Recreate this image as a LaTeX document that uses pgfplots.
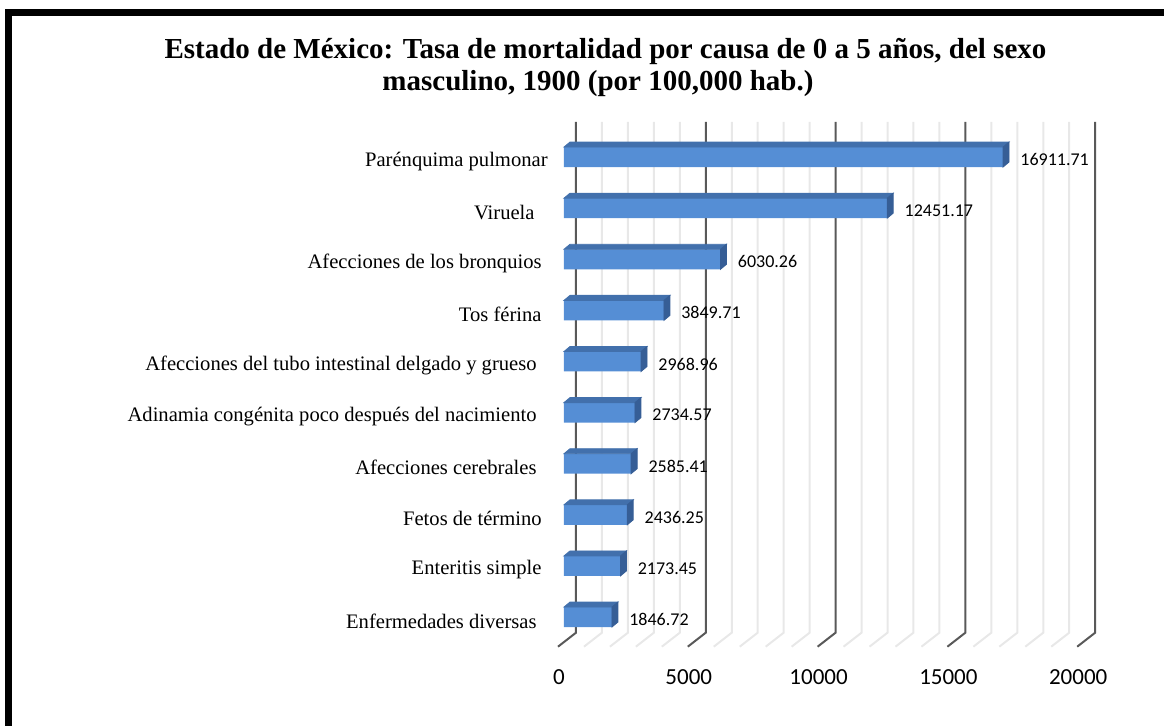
\documentclass[border=0pt]{standalone}
\usepackage{fontspec}
\setmainfont{Liberation Serif}
\newfontfamily\carlito{Carlito}
\usepackage{pgfplots}
\pgfplotsset{compat=1.18}
\usepackage{pgfplotstable}
\definecolor{barfront}{RGB}{85,142,213}
\definecolor{bartop}{RGB}{66,112,172}
\definecolor{barside}{RGB}{54,94,150}
\definecolor{majorgrid}{RGB}{89,89,89}
\definecolor{minorgrid}{RGB}{232,232,232}

\pgfplotstableread[col sep=comma]{
k,val
0,1846.72
1,2173.45
2,2436.25
3,2585.41
4,2734.57
5,2968.96
6,3849.71
7,6030.26
8,12451.17
9,16911.71
}\mortdata

\begin{document}
\begin{tikzpicture}
\useasboundingbox (0,0) rectangle (582pt,362.5pt);
\draw[line width=3.5pt] (4.25pt,-3pt) -- (4.25pt,356pt) -- (586pt,356pt);
\node[font=\bfseries\fontsize{14.5}{16.5}\selectfont, anchor=base, inner sep=0pt] at (302.75pt,333pt) {Estado de México: Tasa de mortalidad por causa de 0 a 5 años, del sexo};
\node[font=\bfseries\fontsize{14.5}{16.5}\selectfont, anchor=base, inner sep=0pt] at (299pt,317pt) {masculino, 1900 (por 100,000 hab.)};
\begin{axis}[
  at={(282pt,41.2pt)}, anchor=south west,
  scale only axis, width=259.6pt, height=255.55pt,
  xmin=0, xmax=20000, ymin=-0.5, ymax=9.5,
  clip=false,
  axis line style={draw=none},
  tick style={draw=none},
  major tick length=0pt,
  scaled x ticks=false,
  xtick={0,5000,10000,15000,20000},
  ytick={0,1,2,3,4,5,6,7,8,9},
  yticklabels={Enfermedades diversas\hspace*{5.5pt},Enteritis simple\hspace*{3pt},Fetos de término\hspace*{3pt},Afecciones cerebrales\hspace*{5.5pt},Adinamia congénita poco después del nacimiento\hspace*{5.5pt},Afecciones del tubo intestinal delgado y grueso\hspace*{5.5pt},Tos férina\hspace*{3pt},Afecciones de los bronquios\hspace*{3pt},Viruela\hspace*{6.5pt},Parénquima pulmonar},
  xticklabel style={font=\carlito\fontsize{11.5}{13}\selectfont, anchor=center, xshift=-2.5pt, yshift=-17.45pt},
  yticklabel style={font=\fontsize{10.3}{12}\selectfont, anchor=east, inner sep=0pt, xshift=-8pt, yshift=-2pt},
  /pgf/number format/1000 sep={},
  /pgf/number format/assume math mode=true,
]
% back wall minor grid lines
\pgfplotsinvokeforeach{1000,2000,3000,4000,6000,7000,8000,9000,11000,12000,13000,14000,16000,17000,18000,19000}{
  \draw[minorgrid, line width=1pt] ([xshift=6pt]axis cs:#1,9.69) -- ([xshift=6pt]axis cs:#1,-0.306) -- ([xshift=-3pt]axis cs:#1,-0.58);
}
\pgfplotsinvokeforeach{0,5000,10000,15000,20000}{
  \draw[majorgrid, line width=1pt] ([xshift=6pt]axis cs:#1,9.69) -- ([xshift=6pt]axis cs:#1,-0.306) -- ([xshift=-3pt]axis cs:#1,-0.58);
}
% front faces
\addplot[xbar, bar width=10pt, fill=barfront, draw=none,
  point meta=x,
  nodes near coords={\pgfmathprintnumber[fixed, fixed zerofill, precision=2, 1000 sep={}, assume math mode=true]{\pgfplotspointmeta}},
  nodes near coords style={font=\carlito\fontsize{9}{10}\selectfont, anchor=west, inner sep=0pt, xshift=8.5pt, yshift=-1.25pt, text=black}]
  table[x=val, y=k] {\mortdata};
% top and side faces
\addplot[scatter, only marks, mark=*, mark size=0pt, mark options={draw=none, fill=none},
  point meta=x, point meta min=0, point meta max=20000,
  scatter/@pre marker code/.code={%
    \pgfmathsetmacro\barlen{\pgfplotspointmetatransformed*0.2596}%
    \fill[bartop] (-\barlen pt,5pt) -- (0pt,5pt) -- (3pt,7.5pt) -- ({-\barlen pt+3pt},7.5pt) -- cycle;
    \fill[barside] (0pt,-5pt) -- (3pt,-2.5pt) -- (3pt,7.5pt) -- (0pt,5pt) -- cycle;
  },
  scatter/@post marker code/.code={}]
  table[x=val, y=k] {\mortdata};
\end{axis}
\end{tikzpicture}
\end{document}
